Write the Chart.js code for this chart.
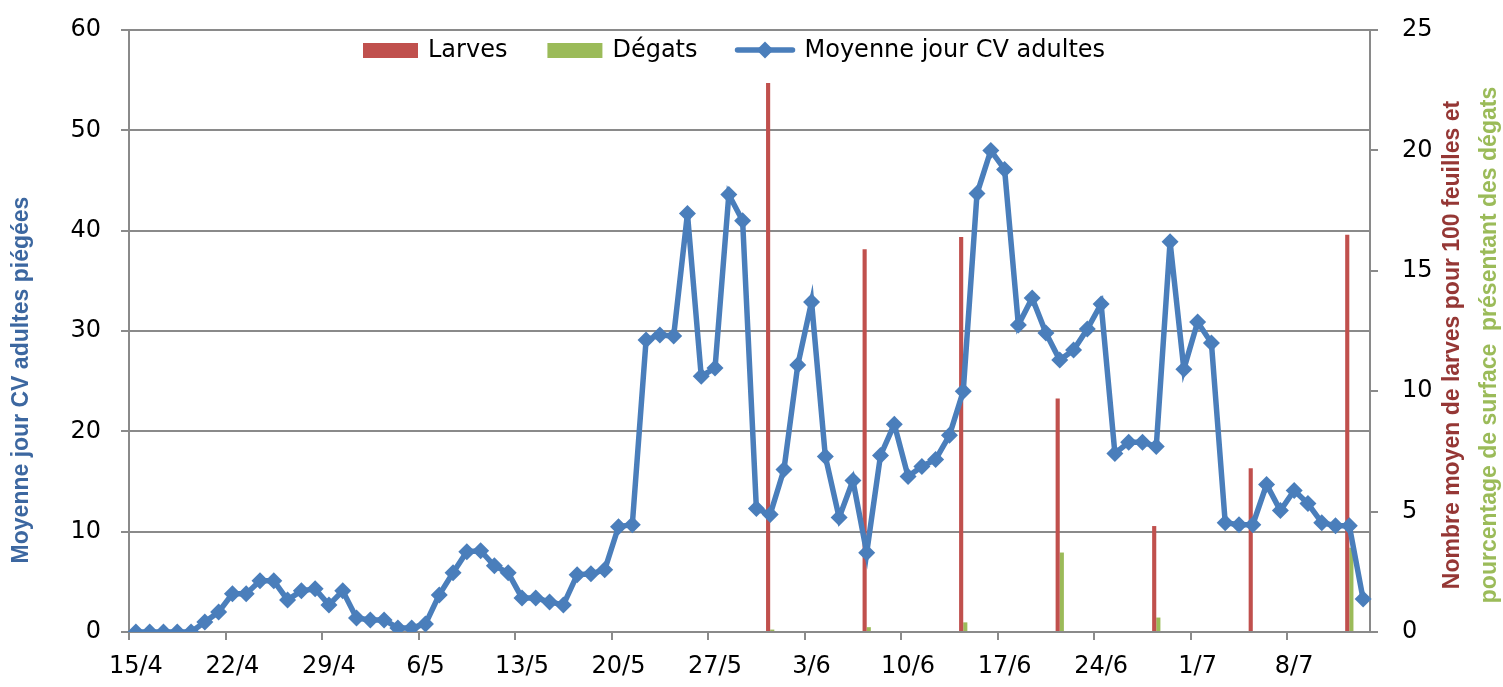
<!DOCTYPE html>
<html>
<head>
<meta charset="utf-8">
<script src="https://cdn.jsdelivr.net/npm/chart.js@4.4.1/dist/chart.umd.min.js"></script>
<style>
  html, body { margin: 0; padding: 0; background: #fff; }
  #wrap { width: 1503px; height: 687px; }
</style>
</head>
<body>
<div id="wrap"><canvas id="chart" width="1503" height="687"></canvas></div>
<script>
// ── Données ──

const days = [
  "15/4", "16/4", "17/4", "18/4", "19/4", "20/4", "21/4", "22/4", "23/4", "24/4",
  "25/4", "26/4", "27/4", "28/4", "29/4", "30/4",
  "1/5", "2/5", "3/5", "4/5", "5/5", "6/5", "7/5", "8/5", "9/5", "10/5",
  "11/5", "12/5", "13/5", "14/5", "15/5", "16/5", "17/5", "18/5", "19/5", "20/5",
  "21/5", "22/5", "23/5", "24/5", "25/5", "26/5", "27/5", "28/5", "29/5", "30/5", "31/5",
  "1/6", "2/6", "3/6", "4/6", "5/6", "6/6", "7/6", "8/6", "9/6", "10/6",
  "11/6", "12/6", "13/6", "14/6", "15/6", "16/6", "17/6", "18/6", "19/6", "20/6",
  "21/6", "22/6", "23/6", "24/6", "25/6", "26/6", "27/6", "28/6", "29/6", "30/6",
  "1/7", "2/7", "3/7", "4/7", "5/7", "6/7", "7/7", "8/7", "9/7", "10/7",
  "11/7", "12/7", "13/7",
];

// Moyenne jour CV adultes (axe de gauche)
const moyenneAdultes = [
  0, 0, 0, 0, 0, 1.0, 2.0, 3.8, 3.8, 5.1,
  5.1, 3.2, 4.1, 4.3, 2.7, 4.1, 1.4, 1.2, 1.2, 0.4,
  0.4, 0.8, 3.7, 5.9, 8.0, 8.1, 6.6, 5.9, 3.4, 3.4,
  3.0, 2.7, 5.7, 5.8, 6.2, 10.5, 10.7, 29.1, 29.6, 29.5,
  41.7, 25.5, 26.3, 43.6, 41.0, 12.3, 11.7, 16.2, 26.6, 32.9,
  17.5, 11.4, 15.1, 7.9, 17.6, 20.7, 15.5, 16.5, 17.2, 19.6,
  24.0, 43.7, 48.0, 46.1, 30.6, 33.3, 29.8, 27.1, 28.1, 30.2,
  32.7, 17.8, 18.9, 18.9, 18.5, 38.9, 26.2, 30.9, 28.8, 10.9,
  10.7, 10.7, 14.7, 12.1, 14.1, 12.8, 10.9, 10.6, 10.6, 3.3,
];

// Relevés hebdomadaires (axe de droite)
const sampleDates = ["31/5", "7/6", "14/6", "21/6", "28/6", "5/7", "12/7"];
const larves = [22.8, 15.9, 16.4, 9.7, 4.4, 6.8, 16.5];
const degats = [0.1, 0.2, 0.4, 3.3, 0.6, 0, 3.5];

const COLORS = {
  larves: "#C0504D",
  degats: "#9BBB59",
  line: "#4A7EBB",
  grid: "#8a8a8a",
  leftTitle: "#3C67A0",
  rightTitle1: "#953735",
  rightTitle2: "#9BBB59",
};

const LEFT_TITLE = "Moyenne jour CV adultes piégées";
const RIGHT_TITLE_1 = "Nombre moyen de larves pour 100 feuilles et";
const RIGHT_TITLE_2 = "pourcentage de surface  présentant des dégats";

// ── Helpers ──

function onDays(dates, values) {
  return days.map((d) => {
    const k = dates.indexOf(d);
    return k === -1 ? null : values[k];
  });
}

// largeur fixe des axes, sans marge ajoutée par les étiquettes
function fixWidth(w) {
  return (s) => {
    s.width = w;
    s.paddingTop = 0;
    s.paddingBottom = 0;
  };
}

function drawRotated(ctx, text, x, y, color) {
  ctx.save();
  ctx.translate(x, y);
  ctx.rotate(-Math.PI / 2);
  ctx.fillStyle = color;
  ctx.font = 'bold 23px "Liberation Sans"';
  ctx.textAlign = "center";
  ctx.textBaseline = "middle";
  ctx.fillText(text, 0, 0);
  ctx.restore();
}

const decorPlugin = {
  id: "decor",
  afterDraw(chart) {
    const ctx = chart.ctx;

    drawRotated(ctx, LEFT_TITLE, 22, 380, COLORS.leftTitle);
    drawRotated(ctx, RIGHT_TITLE_1, 1453, 345, COLORS.rightTitle1);
    drawRotated(ctx, RIGHT_TITLE_2, 1490, 345, COLORS.rightTitle2);

    // légende dans la zone du graphique
    ctx.save();
    ctx.font = '24px "DejaVu Sans"';
    ctx.textBaseline = "middle";
    ctx.fillStyle = "#000";
    let x = 363;
    const y = 50;
    chart.data.datasets.forEach((ds) => {
      if (ds.type === "line") {
        ctx.strokeStyle = ds.borderColor;
        ctx.lineWidth = ds.borderWidth;
        ctx.lineCap = "round";
        ctx.beginPath();
        ctx.moveTo(x, y);
        ctx.lineTo(x + 55, y);
        ctx.stroke();
        ctx.fillStyle = ds.borderColor;
        ctx.beginPath();
        ctx.moveTo(x + 27.5 - 8.5, y);
        ctx.lineTo(x + 27.5, y - 8.5);
        ctx.lineTo(x + 27.5 + 8.5, y);
        ctx.lineTo(x + 27.5, y + 8.5);
        ctx.closePath();
        ctx.fill();
        x += 67;
      } else {
        ctx.fillStyle = ds.backgroundColor;
        ctx.fillRect(x, y - 7, 55, 15);
        x += 65;
      }
      ctx.fillStyle = "#000";
      ctx.fillText(ds.label, x, y + 1);
      x += ctx.measureText(ds.label).width + 40;
    });
    ctx.restore();
  },
};

// ── Graphique ──

new Chart(document.getElementById("chart"), {
  data: {
    labels: days,
    datasets: [
      {
        type: "bar",
        label: "Larves",
        data: onDays(sampleDates, larves),
        backgroundColor: COLORS.larves,
        yAxisID: "y2",
        categoryPercentage: 0.6,
        barPercentage: 1,
        order: 1,
      },
      {
        type: "bar",
        label: "Dégats",
        data: onDays(sampleDates, degats),
        backgroundColor: COLORS.degats,
        yAxisID: "y2",
        categoryPercentage: 0.6,
        barPercentage: 1,
        order: 2,
      },
      {
        type: "line",
        label: "Moyenne jour CV adultes",
        data: moyenneAdultes,
        borderColor: COLORS.line,
        backgroundColor: COLORS.line,
        borderWidth: 5.5,
        pointStyle: "rectRot",
        pointRadius: 8.5,
        pointBorderWidth: 0,
        pointBackgroundColor: COLORS.line,
        tension: 0,
        yAxisID: "y",
        order: 0,
      },
    ],
  },
  options: {
    responsive: false,
    animation: false,
    devicePixelRatio: 1,
    layout: { padding: { top: 30, left: 0, right: 0, bottom: 0 } },
    plugins: {
      legend: { display: false },
      tooltip: { enabled: false },
    },
    scales: {
      x: {
        type: "category",
        offset: true,
        afterFit: (s) => {
          s.height = 55;
          s.paddingLeft = 0;
          s.paddingRight = 0;
        },
        border: { display: true, color: COLORS.grid, width: 2 },
        grid: {
          offset: true,
          drawOnChartArea: false,
          tickLength: 8,
          lineWidth: 2,
          color: (c) => (c.index % 7 === 0 ? COLORS.grid : "rgba(0,0,0,0)"),
        },
        ticks: {
          autoSkip: false,
          maxRotation: 0,
          minRotation: 0,
          padding: 12,
          color: "#000",
          font: { family: "DejaVu Sans", size: 24 },
          callback: (v, i) => (i % 7 === 0 ? days[i] : ""),
        },
      },
      y: {
        position: "left",
        min: 0,
        max: 60,
        afterFit: fixWidth(129),
        border: { display: true, color: COLORS.grid, width: 2 },
        grid: { color: COLORS.grid, lineWidth: 2, tickLength: 8 },
        ticks: {
          stepSize: 10,
          padding: 20,
          color: "#000",
          font: { family: "DejaVu Sans", size: 24 },
        },
      },
      y2: {
        position: "right",
        min: 0,
        max: 25,
        afterFit: fixWidth(133),
        border: { display: true, color: COLORS.grid, width: 2 },
        grid: { drawOnChartArea: false, color: COLORS.grid, lineWidth: 2, tickLength: 8 },
        ticks: {
          stepSize: 5,
          padding: 24,
          color: "#000",
          font: { family: "DejaVu Sans", size: 24 },
        },
      },
    },
  },
  plugins: [decorPlugin],
});
</script>
</body>
</html>
